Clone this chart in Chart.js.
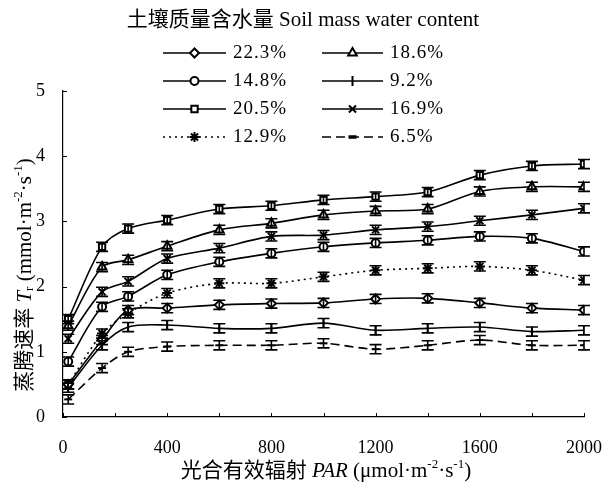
<!DOCTYPE html>
<html>
<head>
<meta charset="utf-8">
<script src="https://cdn.jsdelivr.net/npm/chart.js"></script>
<style>
  html, body { margin: 0; padding: 0; background: #fff; }
  #wrap { width: 605px; height: 488px; }
</style>
</head>
<body>
<div id="wrap"><canvas id="trChart" width="605" height="488"></canvas></div>
<script>
// PAR levels (umol m-2 s-1)
const par = [20, 150, 250, 400, 600, 800, 1000, 1200, 1400, 1600, 1800, 2000];

// transpiration rate Tr (mmol m-2 s-1), one array per soil water content
const tr223 = [0.50, 1.18, 1.64, 1.67, 1.72, 1.74, 1.75, 1.81, 1.82, 1.75, 1.67, 1.64];
const tr186 = [1.40, 2.30, 2.41, 2.62, 2.87, 2.97, 3.10, 3.16, 3.19, 3.46, 3.53, 3.53];
const tr148 = [0.85, 1.69, 1.85, 2.18, 2.38, 2.51, 2.61, 2.67, 2.71, 2.77, 2.74, 2.54];
const tr92  = [0.45, 1.10, 1.38, 1.41, 1.36, 1.36, 1.44, 1.33, 1.36, 1.38, 1.31, 1.33];
const tr205 = [1.50, 2.61, 2.89, 3.02, 3.19, 3.24, 3.33, 3.38, 3.45, 3.71, 3.85, 3.88];
const tr169 = [1.20, 1.92, 2.08, 2.43, 2.59, 2.77, 2.79, 2.87, 2.92, 3.01, 3.10, 3.20];
const tr129 = [0.50, 1.28, 1.59, 1.90, 2.05, 2.05, 2.15, 2.25, 2.28, 2.31, 2.25, 2.10];
const tr65  = [0.27, 0.75, 1.00, 1.08, 1.10, 1.10, 1.13, 1.04, 1.10, 1.18, 1.10, 1.10];

const seriesLabels = ["22.3%", "18.6%", "14.8%", "9.2%", "20.5%", "16.9%", "12.9%", "6.5%"];
const seriesValues = [tr223, tr186, tr148, tr92, tr205, tr169, tr129, tr65];
const errHalf = 0.07; // half length of the error bars

const legendTitle = "土壤质量含水量 Soil mass water content";
const xLabelEvery = 400;

const serif = '"Liberation Serif", "Noto Sans CJK SC", serif';

// marker look for each series, same order as seriesLabels
const markers = [
    { pointStyle: "rectRot", pointRadius: 4.5, pointRotation: 0, lineDash: [] },
    { pointStyle: "triangle", pointRadius: 5, pointRotation: 0, lineDash: [] },
    { pointStyle: "circle", pointRadius: 4, pointRotation: 0, lineDash: [] },
    { pointStyle: "line", pointRadius: 5, pointRotation: 90, lineDash: [] },
    { pointStyle: "rect", pointRadius: 4.5, pointRotation: 0, lineDash: [] },
    { pointStyle: "crossRot", pointRadius: 5, pointRotation: 0, lineDash: [] },
    { pointStyle: "star", pointRadius: 5, pointRotation: 0, lineDash: [2, 4] },
    { pointStyle: "line", pointRadius: 4, pointRotation: 0, lineDash: [9, 5] }
];

const datasets = seriesLabels.map((label, i) => ({
    label: label,
    data: par.map((p, j) => ({ x: p, y: seriesValues[i][j] })),
    borderColor: "#000",
    borderWidth: 1.6,
    borderDash: markers[i].lineDash,
    tension: 0.3,
    fill: false,
    pointStyle: markers[i].pointStyle,
    pointRadius: markers[i].pointRadius,
    pointRotation: markers[i].pointRotation,
    pointBorderWidth: 2,
    pointBorderColor: "#000",
    pointBackgroundColor: "#fff"
}));

// text made of pieces: italic, superscript, subscript
function pieceFont(p, size) {
    const s = (p.sup || p.sub) ? Math.round(size * 0.62) : size;
    return (p.it ? "italic " : "") + s + "px " + serif;
}
function drawRich(ctx, parts, cx, cy, size) {
    let total = 0;
    parts.forEach(p => { ctx.font = pieceFont(p, size); total += ctx.measureText(p.t).width; });
    let x = cx - total / 2;
    ctx.textAlign = "left";
    ctx.textBaseline = "middle";
    parts.forEach(p => {
        ctx.font = pieceFont(p, size);
        const dy = p.sup ? -size * 0.3 : (p.sub ? size * 0.22 : 0);
        ctx.fillText(p.t, x, cy + dy);
        x += ctx.measureText(p.t).width;
    });
}

const xTitle = [
    { t: "光合有效辐射 " }, { t: "PAR", it: true }, { t: " (μmol·m" }, { t: "-2", sup: true },
    { t: "·s" }, { t: "-1", sup: true }, { t: ")" }
];
const yTitle = [
    { t: "蒸腾速率 " }, { t: "T", it: true }, { t: "r", sub: true }, { t: " (mmol·m" }, { t: "-2", sup: true },
    { t: "·s" }, { t: "-1", sup: true }, { t: ")" }
];

// error bars, inner ticks, axis titles and the two column legend
const extras = {
    id: "extras",
    afterDatasetsDraw(chart) {
        const ctx = chart.ctx;
        const yScale = chart.scales.y;
        ctx.save();
        ctx.strokeStyle = "#000";
        ctx.lineWidth = 1.6;
        chart.data.datasets.forEach((ds, i) => {
            const meta = chart.getDatasetMeta(i);
            meta.data.forEach((pt, j) => {
                const v = ds.data[j].y;
                const y1 = yScale.getPixelForValue(v + errHalf);
                const y2 = yScale.getPixelForValue(v - errHalf);
                ctx.beginPath();
                ctx.moveTo(pt.x, y1); ctx.lineTo(pt.x, y2);
                ctx.moveTo(pt.x - 6, y1); ctx.lineTo(pt.x + 6, y1);
                ctx.moveTo(pt.x - 6, y2); ctx.lineTo(pt.x + 6, y2);
                ctx.stroke();
            });
        });
        ctx.restore();
    },
    afterDraw(chart) {
        const ctx = chart.ctx;
        const xs = chart.scales.x, ys = chart.scales.y;
        const area = chart.chartArea;
        ctx.save();
        ctx.strokeStyle = "#000";
        ctx.lineWidth = 1;
        ctx.beginPath();
        xs.ticks.forEach(t => {
            const px = Math.round(xs.getPixelForValue(t.value)) + 0.5;
            ctx.moveTo(px, area.bottom); ctx.lineTo(px, area.bottom - 4);
        });
        ys.ticks.forEach(t => {
            const py = Math.round(ys.getPixelForValue(t.value)) + 0.5;
            ctx.moveTo(area.left, py); ctx.lineTo(area.left + 4, py);
        });
        ctx.stroke();

        ctx.fillStyle = "#000";
        drawRich(ctx, xTitle, 326, 471, 21);
        ctx.save();
        ctx.translate(25, 275);
        ctx.rotate(-Math.PI / 2);
        drawRich(ctx, yTitle, 0, 0, 21);
        ctx.restore();

        // legend
        ctx.font = "21px " + serif;
        ctx.textAlign = "center";
        ctx.textBaseline = "middle";
        ctx.fillText(legendTitle, 303, 20);

        const rows = [53, 81, 109, 137];
        const cols = [{ x1: 163, x2: 226, tx: 233 }, { x1: 322, x2: 383, tx: 390 }];
        chart.data.datasets.forEach((ds, i) => {
            const c = cols[i % 2];
            const y = rows[Math.floor(i / 2)];
            ctx.strokeStyle = "#000";
            ctx.lineWidth = 1.6;
            ctx.setLineDash(ds.borderDash || []);
            ctx.beginPath();
            ctx.moveTo(c.x1, y); ctx.lineTo(c.x2, y);
            ctx.stroke();
            ctx.setLineDash([]);
            ctx.lineWidth = ds.pointStyle === "line" && ds.pointRotation === 0 ? 3.5 : ds.pointBorderWidth;
            ctx.fillStyle = "#fff";
            if (Chart.helpers && Chart.helpers.drawPoint) {
                Chart.helpers.drawPoint(ctx, {
                    pointStyle: ds.pointStyle,
                    radius: ds.pointRadius,
                    rotation: ds.pointRotation,
                    borderWidth: ctx.lineWidth
                }, (c.x1 + c.x2) / 2, y);
            }
            ctx.fillStyle = "#000";
            ctx.font = "19px " + serif;
            ctx.textAlign = "left";
            ctx.letterSpacing = "1px";
            ctx.fillText(ds.label, c.tx, y);
            ctx.letterSpacing = "0px";
        });
        ctx.restore();
    }
};

new Chart(document.getElementById("trChart"), {
    type: "line",
    data: { datasets: datasets },
    options: {
        responsive: false,
        animation: false,
        devicePixelRatio: 1,
        layout: { padding: { left: 0, top: 91, right: 21, bottom: 0 } },
        plugins: { legend: { display: false }, tooltip: { enabled: false } },
        scales: {
            x: {
                type: "linear",
                min: 0,
                max: 2000,
                grid: { display: false },
                border: { display: true, color: "#000", width: 1.2 },
                ticks: {
                    stepSize: 200,
                    autoSkip: false,
                    maxRotation: 0,
                    padding: 12,
                    color: "#000",
                    font: { family: serif, size: 18 },
                    callback: v => (v % xLabelEvery === 0 ? v : "")
                },
                afterFit: s => { s.height = 71; s.paddingLeft = 0; s.paddingRight = 0; }
            },
            y: {
                min: 0,
                max: 5,
                grid: { display: false },
                border: { display: true, color: "#000", width: 1.2 },
                ticks: {
                    stepSize: 1,
                    padding: 10,
                    color: "#000",
                    font: { family: serif, size: 18 }
                },
                afterFit: s => { s.width = 63; s.paddingTop = 0; s.paddingBottom = 0; }
            }
        }
    },
    plugins: [extras]
});
</script>
</body>
</html>
